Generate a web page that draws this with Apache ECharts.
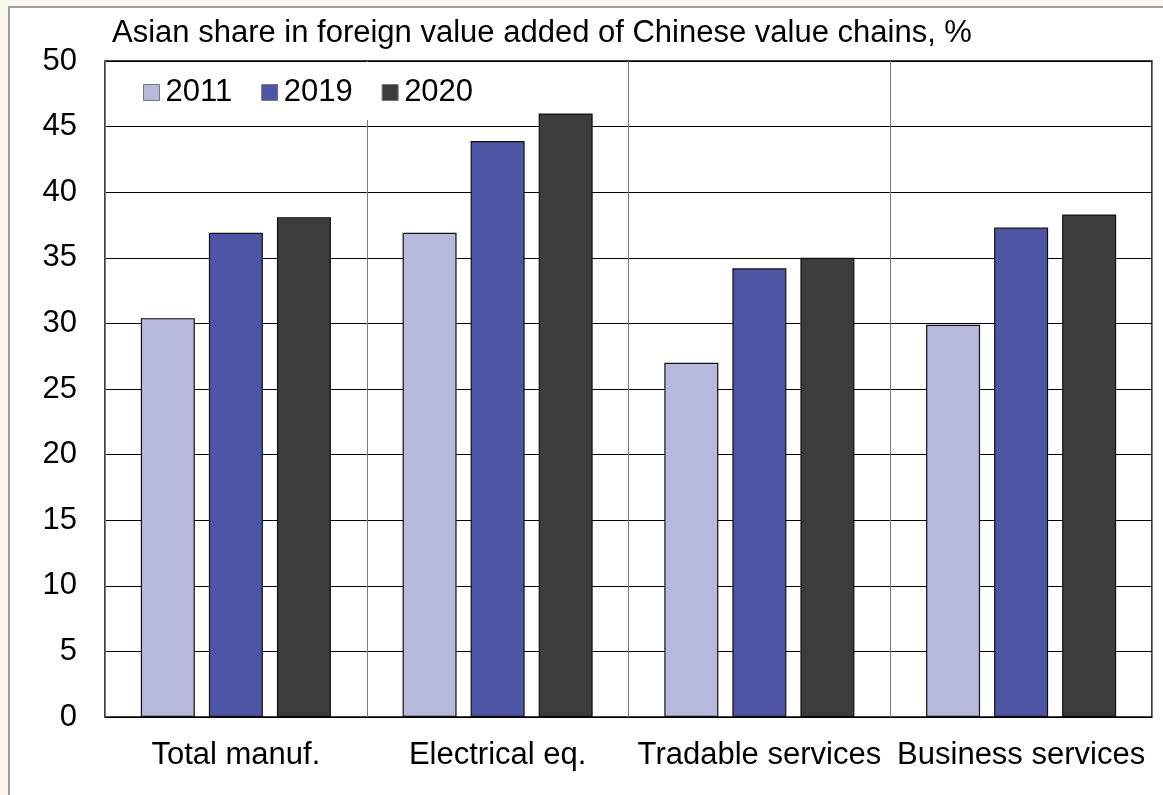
<!DOCTYPE html>
<html>
<head>
<meta charset="utf-8">
<script src="https://cdn.jsdelivr.net/npm/echarts@6/dist/echarts.min.js"></script>
<style>
  html, body { margin: 0; padding: 0; background: #f9f6f0; }
  #wrap { position: relative; width: 1163px; height: 795px; overflow: hidden; background: #f9f6f0; }
  #frame { position: absolute; left: 8px; top: 6px; width: 1170px; height: 800px; background: #fff;
           border-left: 2px solid #a0a0a0; border-top: 2px solid #a0a0a0; }
  #chart { position: absolute; left: 0; top: 0; width: 1163px; height: 795px; }
</style>
</head>
<body>
<div id="wrap">
  <div id="frame"></div>
  <div id="chart"></div>
</div>
<script>
// Sectors and yearly shares (%)
const categories = ['Total manuf.', 'Electrical eq.', 'Tradable services', 'Business services'];
const years = ['2011', '2019', '2020'];
const share2011 = [30.4, 36.9, 27.0, 29.9];
const share2019 = [36.9, 43.9, 34.2, 37.3];
const share2020 = [38.1, 46.0, 35.0, 38.3];
const yTicks = [0, 5, 10, 15, 20, 25, 30, 35, 40, 45, 50];

const colors = ['#b6b9dc', '#4e55a5', '#3c3c3c'];
const seriesData = [share2011, share2019, share2020];
const font = 'Liberation Sans, Arial, sans-serif';
const fs = 31;

const chart = echarts.init(document.getElementById('chart'), null, { renderer: 'canvas' });
chart.setOption({
  backgroundColor: 'transparent',
  animation: false,
  title: {
    text: 'Asian share in foreign value added of Chinese value chains, %',
    left: 107, top: 13,
    textStyle: { fontFamily: font, fontSize: fs, fontWeight: 'normal', color: '#000' }
  },
  legend: {
    data: years,
    left: 106, top: 62,
    padding: [15, 16, 12, 37],
    backgroundColor: '#fff',
    itemWidth: 16, itemHeight: 16, itemGap: 29,
    icon: 'rect',
    itemStyle: { borderColor: '#777', borderWidth: 1 },
    textStyle: { fontFamily: font, fontSize: fs, color: '#000', padding: [0, 0, 0, 1] }
  },
  grid: {
    left: 105, right: 11, top: 61, bottom: 78,
    show: true, borderColor: '#000', borderWidth: 1.5, backgroundColor: 'transparent'
  },
  xAxis: {
    type: 'category',
    data: categories,
    axisLine: { show: false },
    axisTick: { show: false },
    axisLabel: { fontFamily: font, fontSize: fs, color: '#000', margin: 23, interval: 0 },
    splitLine: { show: true, lineStyle: { color: '#7a7a7a', width: 1 } }
  },
  yAxis: {
    type: 'value',
    min: 0, max: 50, interval: 5,
    axisLine: { show: false },
    axisTick: { show: false },
    axisLabel: {
      fontFamily: font, fontSize: fs, color: '#000', margin: 28,
      formatter: v => yTicks.includes(v) ? String(v) : ''
    },
    splitLine: { show: true, lineStyle: { color: '#000', width: 1 } }
  },
  series: years.map((y, i) => ({
    name: y,
    type: 'bar',
    data: seriesData[i],
    barWidth: 54,
    barGap: '26%',
    itemStyle: { color: colors[i], borderColor: '#111', borderWidth: 1.2 },
    z: 3
  }))
});
</script>
</body>
</html>
